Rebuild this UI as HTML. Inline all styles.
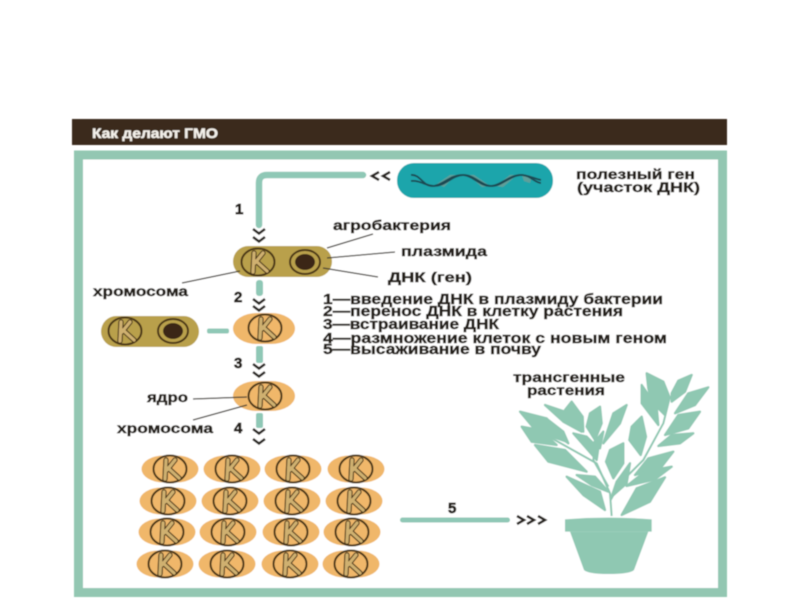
<!DOCTYPE html>
<html><head><meta charset="utf-8"><style>
html,body{margin:0;padding:0;background:#fff;width:800px;height:600px;overflow:hidden}
svg{display:block}
text{font-family:"Liberation Sans",sans-serif;font-weight:bold;fill:#26221e;stroke:#26221e;stroke-width:.45px;font-size:14px}
text.n{font-size:15px;stroke-width:.7px}
text.l{font-size:14.500px}
</style></head><body>
<svg width="800" height="600" viewBox="0 0 800 600" xmlns="http://www.w3.org/2000/svg">
<defs>
<filter id="b" x="-5%" y="-5%" width="110%" height="110%"><feGaussianBlur stdDeviation="0.5"/></filter>
<g id="nuc">
<ellipse cx="0" cy="0" rx="16.500" ry="13.500" fill="none" stroke="#4a3518" stroke-width="2"/>
<path d="M-4,-9 L-5,10 M-3,1 L5,-9 M-2,-1 L9,9" fill="none" stroke="#4a3518" stroke-width="5.400" stroke-linecap="round"/>
<path d="M-4,-9 L-5,10 M-3,1 L5,-9 M-2,-1 L9,9" fill="none" stroke="#cfb070" stroke-width="3.200" stroke-linecap="round"/>
</g>
<g id="cell"><rect x="-28.500" y="-13.500" width="57" height="27" rx="22" ry="13.500" fill="#f0b76a"/><use href="#nuc"/></g>
<g id="pl">
<ellipse cx="0" cy="0" rx="15" ry="12" fill="none" stroke="#4a3518" stroke-width="2"/>
<ellipse cx="0" cy="0" rx="10" ry="8" fill="#3a2818"/>
</g>
<path id="chev" d="M-6,-3 L0,1.500 L6,-3" fill="none" stroke="#2a2622" stroke-width="2.600"/>
</defs>
<g filter="url(#b)">
<rect x="72" y="119" width="655" height="26" fill="#3b2b1d"/>
<rect x="78.500" y="155" width="644" height="437.500" fill="#fff" stroke="#93c7b2" stroke-width="9"/>

<path d="M363,175 H267 Q259,175 259,183 V225" fill="none" stroke="#8fc8b6" stroke-width="6.500" stroke-linecap="round"/>
<path d="M379,172 L372,176 L379,180 M390,172 L383,176 L390,180" fill="none" stroke="#2a2622" stroke-width="2.600"/>
<rect x="397" y="163" width="156" height="35" rx="17" fill="#1fa5ab"/>
<path d="M437,184 L450,175 L456,175 L444,187 Z M468,175 L474,175 L490,186 L482,187 Z M496,186 L510,175 L517,175 L503,187 Z M522,175 L532,176 L530,183 L524,181 Z" fill="#5f9f9a"/>
<g fill="none" stroke="#1f4a52" stroke-width="1.800">
<path d="M411,175 C420,174 423,186 432,186 C442,186 450,175 462,175 C472,175 480,186 490,186 C500,186 510,175 520,175 C528,175 532,178 541,180"/>
<path d="M411,181 C420,180 426,186 434,186 C446,186 452,175 464,175 C474,175 482,186 492,186 C502,186 510,175 522,175 C530,175 535,183 541,183"/>
</g>

<use href="#chev" x="259" y="232"/><use href="#chev" x="259" y="240"/>
<rect x="233" y="246" width="99" height="31" rx="15.500" fill="#b9a04c"/>
<use href="#nuc" x="258" y="262"/>
<use href="#pl" x="305" y="262"/>

<rect x="256" y="280" width="7" height="16" rx="3" fill="#8fc8b6"/>
<use href="#chev" x="259" y="302"/><use href="#chev" x="259" y="309"/>
<rect x="233" y="313" width="62" height="31" rx="24" ry="15.500" fill="#f0b76a"/>
<use href="#nuc" x="265" y="328"/>

<rect x="101" y="316" width="98" height="31" rx="15.500" fill="#b9a04c"/>
<use href="#nuc" x="125" y="331"/>
<use href="#pl" x="173" y="331"/>
<rect x="207" y="328.500" width="22" height="5" rx="2" fill="#8fc8b6"/>

<rect x="256" y="346" width="7" height="17" rx="2" fill="#8fc8b6"/>
<use href="#chev" x="259" y="367"/><use href="#chev" x="259" y="375"/>
<rect x="233" y="381" width="62" height="30" rx="24" ry="15" fill="#f0b76a"/>
<use href="#nuc" x="265" y="396"/>
<rect x="256" y="413" width="7" height="15" rx="2" fill="#8fc8b6"/>
<use href="#chev" x="259" y="432"/><use href="#chev" x="259" y="442"/>

<use href="#cell" x="170" y="469"/><use href="#cell" x="232" y="469"/><use href="#cell" x="293" y="469"/><use href="#cell" x="356" y="469"/>
<use href="#cell" x="168" y="501"/><use href="#cell" x="230" y="501"/><use href="#cell" x="292" y="501"/><use href="#cell" x="354" y="501"/>
<use href="#cell" x="167" y="532"/><use href="#cell" x="228" y="532"/><use href="#cell" x="291" y="532"/><use href="#cell" x="352" y="532"/>
<use href="#cell" x="165" y="564"/><use href="#cell" x="227" y="564"/><use href="#cell" x="290" y="564"/><use href="#cell" x="351" y="564"/>

<rect x="400" y="517.500" width="110" height="5" rx="2.500" fill="#8fc8b6"/>
<path d="M517,516 L524,520 L517,524 M527,516 L534,520 L527,524 M538,516 L545,520 L538,524" fill="none" stroke="#2a2622" stroke-width="2.600"/>

<g stroke="#3e3a34" stroke-width="1.200" fill="none">
<path d="M327,248 L373,234"/><path d="M327,258 L395,252"/><path d="M323,268 L378,277"/>
<path d="M182,283 L240,271"/><path d="M193,399 L247,397"/><path d="M193,420 L247,405"/>
</g>

<g transform="translate(400,360) scale(0.33333)" fill="#8fc8b2" stroke="#8fc8b2" stroke-width="7" stroke-linejoin="round">
<path d="M740,40 L790,65 L808,110 L795,165 L755,125 L745,85 Z"/>
<path d="M875,45 L835,62 L815,100 L815,125 L855,95 Z"/>
<path d="M925,82 L865,100 L825,160 L885,135 Z"/>
<path d="M725,75 L725,130 L775,195 L770,140 Z"/>
<path d="M900,155 L835,165 L795,225 L865,205 Z"/>
<path d="M880,220 L815,225 L775,258 L840,250 Z"/>
<path d="M725,170 L695,200 L688,240 L722,285 L738,230 Z"/>
<path d="M820,275 L745,295 L705,345 L785,320 Z"/>
<path d="M815,320 L735,335 L680,378 L765,358 Z"/>
<path d="M795,352 L710,385 L665,465 L750,425 Z"/>
<path d="M670,250 L630,270 L618,305 L640,355 L670,310 Z"/>
<path d="M690,310 L650,365 L635,410 L680,370 Z"/>
<path d="M680,135 L640,160 L610,250 L660,190 Z"/>
<path d="M600,140 L570,160 L560,200 L585,240 L605,190 Z"/>
<path d="M515,125 L495,150 L510,190 L550,215 L548,170 Z"/>
<path d="M435,135 L490,185 L545,215 L510,160 Z"/>
<path d="M520,220 L590,300 L595,265 L560,230 Z"/>
<path d="M360,155 L410,215 L500,245 L440,175 Z"/>
<path d="M365,200 L395,245 L470,255 L420,210 Z"/>
<path d="M445,180 L470,225 L505,250 L490,215 Z"/>
<path d="M405,255 L445,305 L560,335 L495,270 Z"/>
<path d="M530,345 L575,375 L625,395 L585,350 Z"/>
<path d="M500,350 L550,405 L615,450 L600,395 Z"/>
<path d="M580,250 L610,215 L600,265 Z"/>
<g fill="none" stroke-width="6">
<path d="M635,468 L630,400 L590,310 L500,260 L420,215"/>
<path d="M632,420 L660,370 L730,300 L790,190 L810,110"/>
<path d="M625,380 L580,300 L585,240"/>
</g>
<path stroke="none" d="M495,478 Q625,468 755,478 L755,515 L495,515 Z"/>
<path stroke="none" d="M510,515 L745,515 L702,630 Q690,642 625,642 Q565,642 552,630 Z"/>
</g>

<text x="92" y="138" textLength="126" lengthAdjust="spacingAndGlyphs" style="fill:#f2efe9;stroke:#f2efe9">Как делают ГМО</text>
<text class="n" x="235" y="214">1</text>
<text x="333" y="230" textLength="118" lengthAdjust="spacingAndGlyphs">агробактерия</text>
<text x="401" y="256" textLength="86" lengthAdjust="spacingAndGlyphs">плазмида</text>
<text x="388" y="282" textLength="84" lengthAdjust="spacingAndGlyphs">ДНК (ген)</text>
<text x="576" y="179" textLength="119" lengthAdjust="spacingAndGlyphs">полезный ген</text>
<text x="577" y="192" textLength="123" lengthAdjust="spacingAndGlyphs">(участок ДНК)</text>
<text class="l" x="323" y="304" textLength="340" lengthAdjust="spacingAndGlyphs">1—введение ДНК в плазмиду бактерии</text>
<text class="l" x="323" y="316" textLength="300" lengthAdjust="spacingAndGlyphs">2—перенос ДНК в клетку растения</text>
<text class="l" x="323" y="329" textLength="176" lengthAdjust="spacingAndGlyphs">3—встраивание ДНК</text>
<text class="l" x="323" y="343" textLength="344" lengthAdjust="spacingAndGlyphs">4—размножение клеток с новым геном</text>
<text class="l" x="323" y="354" textLength="218" lengthAdjust="spacingAndGlyphs">5—высаживание в почву</text>
<text x="93" y="296" textLength="95" lengthAdjust="spacingAndGlyphs">хромосома</text>
<text class="n" x="234" y="302">2</text>
<text class="n" x="234" y="368">3</text>
<text x="147" y="402" textLength="41" lengthAdjust="spacingAndGlyphs">ядро</text>
<text x="117" y="433" textLength="96" lengthAdjust="spacingAndGlyphs">хромосома</text>
<text class="n" x="234" y="433">4</text>
<text class="n" x="448" y="513">5</text>
<text x="513" y="382" textLength="112" lengthAdjust="spacingAndGlyphs">трансгенные</text>
<text x="527" y="395" textLength="78" lengthAdjust="spacingAndGlyphs">растения</text>
</g>
</svg>
</body></html>
